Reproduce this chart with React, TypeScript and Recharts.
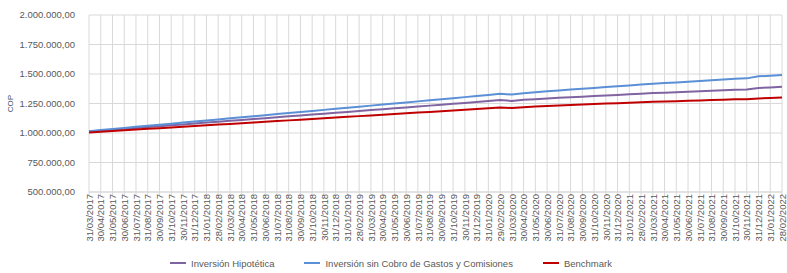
import React from 'react';
import { LineChart, Line, XAxis, YAxis, CartesianGrid, Legend } from 'recharts';

// month-end dates, 31/03/2017 .. 28/02/2022
const dates = [
  '31/03/2017', '30/04/2017', '31/05/2017', '30/06/2017', '31/07/2017', '31/08/2017',
  '30/09/2017', '31/10/2017', '30/11/2017', '31/12/2017', '31/01/2018', '28/02/2018',
  '31/03/2018', '30/04/2018', '31/05/2018', '30/06/2018', '31/07/2018', '31/08/2018',
  '30/09/2018', '31/10/2018', '30/11/2018', '31/12/2018', '31/01/2019', '28/02/2019',
  '31/03/2019', '30/04/2019', '31/05/2019', '30/06/2019', '31/07/2019', '31/08/2019',
  '30/09/2019', '31/10/2019', '30/11/2019', '31/12/2019', '31/01/2020', '29/02/2020',
  '31/03/2020', '30/04/2020', '31/05/2020', '30/06/2020', '31/07/2020', '31/08/2020',
  '30/09/2020', '31/10/2020', '30/11/2020', '31/12/2020', '31/01/2021', '28/02/2021',
  '31/03/2021', '30/04/2021', '31/05/2021', '30/06/2021', '31/07/2021', '31/08/2021',
  '30/09/2021', '31/10/2021', '30/11/2021', '31/12/2021', '31/01/2022', '28/02/2022',
];

const hipotetica = [
  1012000, 1020000, 1027000, 1035000, 1042000, 1050000, 1058000, 1065000, 1073000, 1080000,
  1088000, 1096000, 1103000, 1111000, 1118000, 1126000, 1134000, 1141000, 1149000, 1156000,
  1164000, 1172000, 1179000, 1187000, 1194000, 1202000, 1210000, 1217000, 1225000, 1232000,
  1240000, 1248000, 1255000, 1263000, 1271000, 1279000, 1272000, 1281000, 1287000, 1293000,
  1298000, 1303000, 1308000, 1313000, 1318000, 1323000, 1328000, 1333000, 1338000, 1342000,
  1346000, 1350000, 1354000, 1358000, 1362000, 1366000, 1368000, 1381000, 1386000, 1391000,
];

const sinCobro = [
  1015000, 1025000, 1034000, 1043000, 1052000, 1061000, 1070000, 1079000, 1088000, 1097000,
  1106000, 1115000, 1124000, 1133000, 1142000, 1151000, 1160000, 1169000, 1178000, 1187000,
  1196000, 1205000, 1214000, 1223000, 1232000, 1241000, 1250000, 1259000, 1268000, 1277000,
  1286000, 1295000, 1304000, 1313000, 1323000, 1333000, 1326000, 1337000, 1345000, 1353000,
  1361000, 1368000, 1375000, 1382000, 1389000, 1396000, 1403000, 1410000, 1417000, 1423000,
  1429000, 1435000, 1441000, 1447000, 1453000, 1459000, 1463000, 1480000, 1486000, 1492000,
];

const benchmark = [
  1005000, 1011000, 1017000, 1023000, 1029000, 1035000, 1041000, 1047000, 1053000, 1059000,
  1065000, 1071000, 1077000, 1083000, 1089000, 1095000, 1101000, 1107000, 1113000, 1119000,
  1125000, 1131000, 1137000, 1143000, 1149000, 1155000, 1161000, 1167000, 1173000, 1179000,
  1185000, 1191000, 1197000, 1203000, 1210000, 1217000, 1211000, 1219000, 1224000, 1229000,
  1233000, 1237000, 1241000, 1245000, 1249000, 1253000, 1257000, 1261000, 1264000, 1267000,
  1270000, 1273000, 1276000, 1279000, 1282000, 1285000, 1286000, 1293000, 1297000, 1300000,
];

const yTicks = [500000, 750000, 1000000, 1250000, 1500000, 1750000, 2000000];

const data = dates.map((d, i) => ({
  date: d,
  hipotetica: hipotetica[i],
  sinCobro: sinCobro[i],
  benchmark: benchmark[i],
}));

const fmt = (v: number) =>
  String(Math.round(v)).replace(/\B(?=(\d{3})+(?!\d))/g, '.') + ',00';

const FONT = '"Liberation Sans", Arial, sans-serif';
const TXT = '#595959';

const legendItems = [
  { label: 'Inversión Hipotética', color: '#8064a2' },
  { label: 'Inversión sin Cobro de Gastos y Comisiones', color: '#5b8fd6' },
  { label: 'Benchmark', color: '#c00000' },
];

const LegendBox = () => (
  <div style={{ display: 'flex', justifyContent: 'center', gap: 30, height: 21, paddingTop: 5, boxSizing: 'border-box', fontFamily: FONT, fontSize: 9.5, color: TXT }}>
    {legendItems.map((it) => (
      <span key={it.label} style={{ display: 'flex', alignItems: 'center', height: 12 }}>
        <span style={{ display: 'inline-block', width: 16, height: 2, background: it.color, marginRight: 5 }} />
        {it.label}
      </span>
    ))}
  </div>
);

export default function App() {
  return (
    <div style={{ position: 'absolute', left: 0, top: 0, background: '#fff' }}>
      <LineChart width={787} height={273} data={data} margin={{ top: 15, right: 5, bottom: 0, left: 0 }}>
        <CartesianGrid stroke="#d9d9d9" strokeWidth={1} />
        <XAxis
          dataKey="date"
          interval={0}
          height={60}
          angle={-90}
          textAnchor="end"
          tick={{ fontSize: 9.5, fill: TXT, fontFamily: FONT, dy: -4, dx: -3 }}
          axisLine={{ stroke: '#d9d9d9' }}
          tickLine={{ stroke: '#d9d9d9' }}
          tickSize={4}
        />
        <YAxis
          width={89}
          domain={[500000, 2000000]}
          ticks={yTicks}
          tickFormatter={fmt}
          tick={{ fontSize: 9.5, fill: TXT, fontFamily: FONT }}
          axisLine={false}
          tickLine={false}
          tickMargin={8}
          label={{ value: 'COP', angle: -90, position: 'insideLeft', offset: 10, style: { fontSize: 8, fill: '#44546a', fontFamily: FONT, textAnchor: 'middle' } }}
        />
        <Legend verticalAlign="bottom" height={21} content={() => <LegendBox />} />
        <Line type="linear" dataKey="hipotetica" stroke="#8064a2" strokeWidth={2} dot={false} isAnimationActive={false} />
        <Line type="linear" dataKey="sinCobro" stroke="#5b8fd6" strokeWidth={2} dot={false} isAnimationActive={false} />
        <Line type="linear" dataKey="benchmark" stroke="#c00000" strokeWidth={2} dot={false} isAnimationActive={false} />
      </LineChart>
    </div>
  );
}
